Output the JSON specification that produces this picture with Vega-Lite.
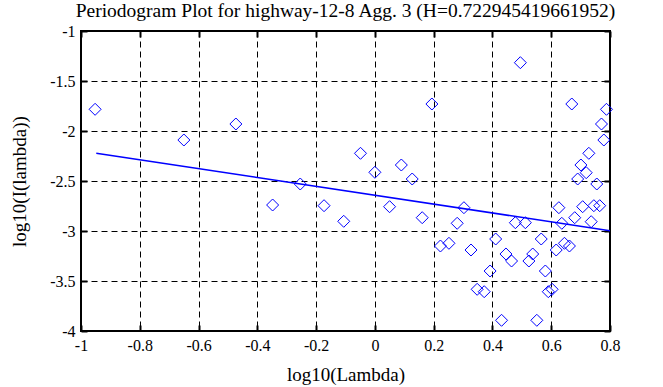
{
  "$schema": "https://vega.github.io/schema/vega-lite/v6.json",
  "width": 529,
  "height": 300,
  "autosize": "none",
  "padding": {"left": 81, "top": 31, "right": 53, "bottom": 56},
  "background": "white",
  "title": {
    "text": "Periodogram Plot for highway-12-8 Agg. 3 (H=0.722945419661952)",
    "font": "Liberation Serif",
    "fontSize": 19.5,
    "fontWeight": "normal",
    "color": "black",
    "anchor": "middle",
    "offset": 2
  },
  "config": {
    "font": "Liberation Serif",
    "view": {"stroke": "black", "strokeWidth": 2},
    "axis": {
      "labelFont": "Liberation Serif",
      "labelFontSize": 16,
      "labelColor": "black",
      "titleFont": "Liberation Serif",
      "titleFontSize": 19,
      "titleFontWeight": "normal",
      "titleColor": "black",
      "domain": false,
      "tickColor": "black",
      "tickWidth": 2,
      "tickSize": -6,
      "grid": true,
      "gridColor": "black",
      "gridOpacity": 1,
      "gridDash": [6, 4],
      "gridWidth": 1
    }
  },
  "datasets": {
    "pts": [
      {"x": -0.952, "y": -1.783},
      {"x": -0.650, "y": -2.09},
      {"x": -0.473, "y": -1.93},
      {"x": -0.348, "y": -2.74},
      {"x": -0.254, "y": -2.53},
      {"x": -0.173, "y": -2.747},
      {"x": -0.106, "y": -2.903},
      {"x": -0.049, "y": -2.223},
      {"x": 0.0, "y": -2.413},
      {"x": 0.09, "y": -2.34},
      {"x": 0.127, "y": -2.48},
      {"x": 0.05, "y": -2.757},
      {"x": 0.161, "y": -2.867},
      {"x": 0.194, "y": -1.73},
      {"x": 0.223, "y": -3.15},
      {"x": 0.252, "y": -3.123},
      {"x": 0.280, "y": -2.923},
      {"x": 0.303, "y": -2.767},
      {"x": 0.327, "y": -3.19},
      {"x": 0.348, "y": -3.583},
      {"x": 0.372, "y": -3.607},
      {"x": 0.392, "y": -3.40},
      {"x": 0.411, "y": -3.08},
      {"x": 0.431, "y": -3.893},
      {"x": 0.446, "y": -3.23},
      {"x": 0.465, "y": -3.30},
      {"x": 0.478, "y": -2.917},
      {"x": 0.512, "y": -2.917},
      {"x": 0.495, "y": -1.317},
      {"x": 0.537, "y": -3.23},
      {"x": 0.524, "y": -3.30},
      {"x": 0.566, "y": -3.08},
      {"x": 0.580, "y": -3.40},
      {"x": 0.551, "y": -3.893},
      {"x": 0.590, "y": -3.607},
      {"x": 0.603, "y": -3.583},
      {"x": 0.617, "y": -3.19},
      {"x": 0.626, "y": -2.767},
      {"x": 0.636, "y": -2.923},
      {"x": 0.645, "y": -3.123},
      {"x": 0.662, "y": -3.15},
      {"x": 0.670, "y": -1.73},
      {"x": 0.680, "y": -2.867},
      {"x": 0.690, "y": -2.48},
      {"x": 0.707, "y": -2.757},
      {"x": 0.701, "y": -2.34},
      {"x": 0.719, "y": -2.417},
      {"x": 0.728, "y": -2.223},
      {"x": 0.736, "y": -2.907},
      {"x": 0.745, "y": -2.747},
      {"x": 0.755, "y": -2.53},
      {"x": 0.765, "y": -2.747},
      {"x": 0.771, "y": -1.93},
      {"x": 0.779, "y": -2.09},
      {"x": 0.788, "y": -1.783}
    ],
    "fit": [
      {"x": -0.948, "y": -2.223},
      {"x": 0.8, "y": -2.997}
    ]
  },
  "layer": [
    {
      "data": {"name": "pts"},
      "mark": {"type": "point", "shape": "diamond", "size": 144, "filled": false, "stroke": "#0000ff", "strokeWidth": 1, "opacity": 1},
      "encoding": {
        "x": {"field": "x", "type": "quantitative", "scale": {"domain": [-1, 0.8], "nice": false, "zero": false},
          "axis": {"title": "log10(Lambda)", "orient": "bottom", "values": [-1, -0.8, -0.6, -0.4, -0.2, 0, 0.2, 0.4, 0.6, 0.8], "labelExpr": "'' + datum.value", "labelPadding": 12, "titlePadding": 12, "labelFlush": false}},
        "y": {"field": "y", "type": "quantitative", "scale": {"domain": [-4, -1], "nice": false, "zero": false},
          "axis": {"title": "log10(I(lambda))", "orient": "left", "values": [-4, -3.5, -3, -2.5, -2, -1.5, -1], "labelExpr": "'' + datum.value", "labelPadding": 12, "titlePadding": 20, "labelFlush": false}}
      }
    },
    {
      "data": {"name": "fit"},
      "mark": {"type": "line", "color": "#0000ff", "strokeWidth": 1.5, "clip": true},
      "encoding": {
        "x": {"field": "x", "type": "quantitative",
          "axis": {"orient": "top", "title": null, "labels": false, "grid": false, "values": [-1, -0.8, -0.6, -0.4, -0.2, 0, 0.2, 0.4, 0.6, 0.8]}},
        "y": {"field": "y", "type": "quantitative",
          "axis": {"orient": "right", "title": null, "labels": false, "grid": false, "values": [-4, -3.5, -3, -2.5, -2, -1.5, -1]}}
      }
    }
  ],
  "resolve": {"axis": {"x": "independent", "y": "independent"}}
}
